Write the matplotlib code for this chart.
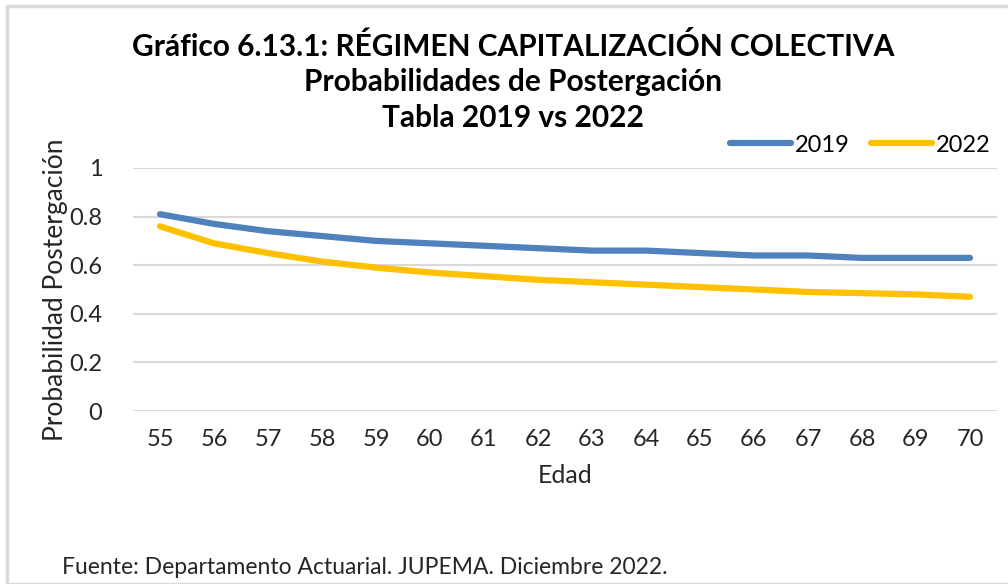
import matplotlib.pyplot as plt
from matplotlib.patches import Rectangle

plt.rcParams['font.family'] = ['Lato', 'DejaVu Sans']

# datos
edades = [55, 56, 57, 58, 59, 60, 61, 62, 63, 64, 65, 66, 67, 68, 69, 70]
prob_2019 = [0.81, 0.77, 0.74, 0.72, 0.70, 0.69, 0.68, 0.67, 0.66, 0.66, 0.65, 0.64, 0.64, 0.63, 0.63, 0.63]
prob_2022 = [0.76, 0.69, 0.65, 0.615, 0.59, 0.57, 0.555, 0.54, 0.53, 0.52, 0.51, 0.50, 0.49, 0.485, 0.48, 0.47]
yticks = [0, 0.2, 0.4, 0.6, 0.8, 1]
ytick_labels = ['0', '0.2', '0.4', '0.6', '0.8', '1']

fig = plt.figure(figsize=(10.08, 5.84), dpi=100)
W, H = 1008, 584

# marco del grafico
fig.patches.append(Rectangle((7 / W, 0), 1.1, 1 - 6 / H, transform=fig.transFigure,
                             fill=False, edgecolor='#d9d9d9', linewidth=2.5))

ax = fig.add_axes([133 / W, 1 - 411 / H, (997 - 133) / W, (411 - 168) / H])
pos = list(range(len(edades)))
ax.plot(pos, prob_2019, color='#4f81bd', linewidth=4.5, solid_capstyle='round', label='2019')
ax.plot(pos, prob_2022, color='#ffc000', linewidth=4.5, solid_capstyle='round', label='2022')

ax.set_xlim(-0.5, len(edades) - 0.5)
ax.set_ylim(0, 1)
ax.set_xticks(pos)
ax.set_xticklabels([str(e) for e in edades])
ax.set_yticks(yticks)
ax.set_yticklabels(ytick_labels)
ax.grid(axis='y', color='#d9d9d9', linewidth=1.5)
ax.set_axisbelow(True)
for s in ax.spines.values():
    s.set_visible(False)
ax.tick_params(length=0, labelsize=17, colors='#262626', pad=13)
ax.tick_params(axis='y', pad=22)
ax.set_xlabel('Edad', fontsize=18, color='#262626', labelpad=10)
ax.set_ylabel('Probabilidad Postergación', fontsize=19, color='#262626')
ax.yaxis.set_label_coords(-0.075, 0.5)

fig.text(513 / W, 1 - 46 / H, 'Gráfico 6.13.1: RÉGIMEN CAPITALIZACIÓN COLECTIVA',
         ha='center', va='center', fontsize=21.5, fontweight='bold')
fig.text(513 / W, 1 - 82 / H, 'Probabilidades de Postergación',
         ha='center', va='center', fontsize=21.5, fontweight='bold')
fig.text(513 / W, 1 - 118 / H, 'Tabla 2019 vs 2022',
         ha='center', va='center', fontsize=21.5, fontweight='bold')

fig.legend(loc='center right', bbox_to_anchor=(1000 / W, 1 - 145 / H), ncol=2, frameon=False,
           fontsize=17, handlelength=2.6, columnspacing=0.9, handletextpad=0.15, borderaxespad=0)

fig.text(62 / W, 1 - 568 / H, 'Fuente: Departamento Actuarial. JUPEMA. Diciembre 2022.',
         ha='left', va='center', fontsize=16.5, color='#262626')

plt.savefig('out.png', dpi=100)
